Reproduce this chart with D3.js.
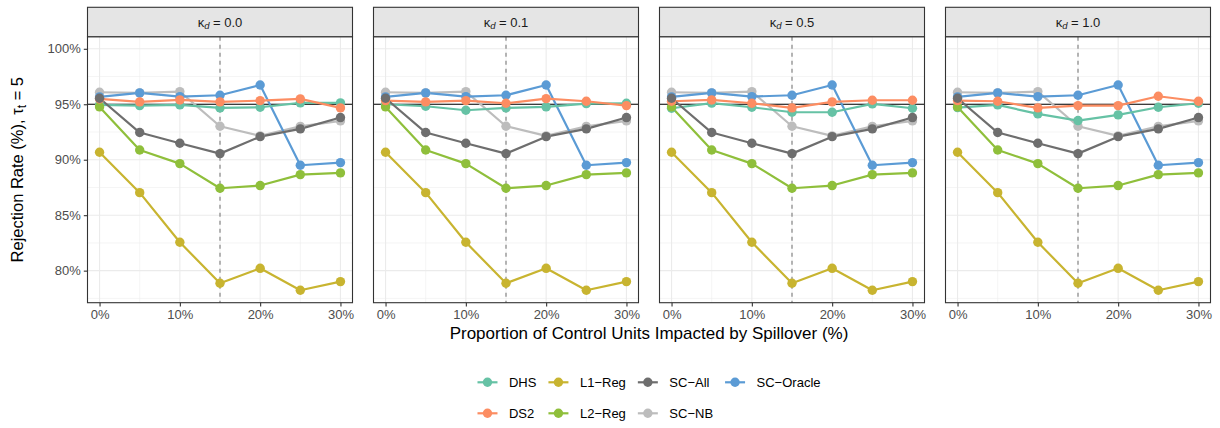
<!DOCTYPE html>
<html>
<head>
<meta charset="utf-8">
<script src="https://cdn.jsdelivr.net/npm/d3@7"></script>
<style>
  body { margin: 0; background: #fff; }
  svg text { font-family: "Liberation Sans", Arial, Helvetica, sans-serif; }
</style>
</head>
<body>
<div id="chart"></div>
<script>
// facet labels (kappa_d) and x values (% of control units hit by spillover)
var kappaLabels = ["0.0", "0.1", "0.5", "1.0"];
var spill = [0, 5, 10, 15, 20, 25, 30];

// series that do not change with kappa_d
var l1Reg    = [90.67, 87.03, 82.56, 78.86, 80.21, 78.23, 79.01];
var l2Reg    = [94.76, 90.88, 89.65, 87.43, 87.67, 88.66, 88.81];
var scAll    = [95.54, 92.45, 91.48, 90.55, 92.08, 92.78, 93.80];
var scNB     = [96.08, 96.02, 96.14, 93.02, 92.15, 93.00, 93.50];
var scOracle = [95.66, 96.02, 95.69, 95.81, 96.74, 89.50, 89.74];

// series that do change, one row per panel
var dhs = [
  [94.94, 94.88, 94.94, 94.67, 94.73, 95.12, 95.12],
  [95.00, 94.82, 94.46, 94.67, 94.76, 95.06, 95.09],
  [94.64, 95.10, 94.73, 94.28, 94.28, 95.03, 94.64],
  [94.70, 94.94, 94.13, 93.53, 94.04, 94.73, 95.09]
];
var ds2 = [
  [95.48, 95.21, 95.39, 95.21, 95.33, 95.48, 94.67],
  [95.33, 95.21, 95.33, 95.09, 95.51, 95.27, 94.88],
  [95.27, 95.39, 95.09, 94.67, 95.21, 95.36, 95.36],
  [95.33, 95.27, 94.67, 94.88, 94.88, 95.72, 95.27]
];

var methods = ["DHS", "DS2", "L1\u2212Reg", "L2\u2212Reg", "SC\u2212All", "SC\u2212NB", "SC\u2212Oracle"];
var colors  = ["#66C2A5", "#FC8D62", "#C8B430", "#8FBF3B", "#6E6E6E", "#BDBDBD", "#5B9BD5"];
var drawOrder = [5, 6, 0, 3, 2, 1, 4]; // roughly what sits on top in the original

var nominal = 95, cutoff = 15;
var yTicks = [80, 85, 90, 95, 100];
var yMinor = [77.5, 82.5, 87.5, 92.5, 97.5];
var xTicks = [0, 10, 20, 30];
var xMinor = [5, 15, 25];

var W = 1220, H = 428;
var panelW = 265, panelStep = 286, panelX0 = 87.5;
var stripTop = 7.3, stripH = 29.4;
var plotTop = stripTop + stripH, plotBottom = 302.7;

var svg = d3.select("#chart").append("svg")
    .attr("width", W)
    .attr("height", H);

var x = d3.scaleLinear()
    .domain([0 - 1.5, 30 + 1.5])
    .range([0, panelW]);

var yr = [78.2, 100], ypad = (yr[1] - yr[0]) * 0.05;
var y = d3.scaleLinear()
    .domain([yr[0] - ypad, yr[1] + ypad])
    .range([plotBottom, plotTop]);

function seriesFor(p) {
  return [dhs[p], ds2[p], l1Reg, l2Reg, scAll, scNB, scOracle];
}

var line = d3.line()
    .x(function(d) { return x(d[0]); })
    .y(function(d) { return y(d[1]); });

kappaLabels.forEach(function(lab, p) {
  var g = svg.append("g")
      .attr("transform", "translate(" + (panelX0 + p * panelStep) + ",0)");

  // grid
  g.selectAll(".ymin").data(yMinor).enter().append("line")
      .attr("x1", 0).attr("x2", panelW)
      .attr("y1", y).attr("y2", y)
      .attr("stroke", "#EBEBEB").attr("stroke-width", 0.55);
  g.selectAll(".xmin").data(xMinor).enter().append("line")
      .attr("y1", plotTop).attr("y2", plotBottom)
      .attr("x1", x).attr("x2", x)
      .attr("stroke", "#EBEBEB").attr("stroke-width", 0.55);
  g.selectAll(".ymaj").data(yTicks).enter().append("line")
      .attr("x1", 0).attr("x2", panelW)
      .attr("y1", y).attr("y2", y)
      .attr("stroke", "#EBEBEB").attr("stroke-width", 1.1);
  g.selectAll(".xmaj").data(xTicks).enter().append("line")
      .attr("y1", plotTop).attr("y2", plotBottom)
      .attr("x1", x).attr("x2", x)
      .attr("stroke", "#EBEBEB").attr("stroke-width", 1.1);

  // reference lines
  g.append("line")
      .attr("x1", 0).attr("x2", panelW)
      .attr("y1", y(nominal)).attr("y2", y(nominal))
      .attr("stroke", "#000").attr("stroke-width", 1.1);
  g.append("line")
      .attr("x1", x(cutoff)).attr("x2", x(cutoff))
      .attr("y1", plotTop).attr("y2", plotBottom)
      .attr("stroke", "#7A7A7A").attr("stroke-width", 1.1)
      .attr("stroke-dasharray", "4,4");

  var series = seriesFor(p);

  // lines first, then points (like ggplot layers)
  drawOrder.forEach(function(k) {
    var pts = spill.map(function(s, i) { return [s, series[k][i]]; });
    g.append("path")
        .datum(pts)
        .attr("fill", "none")
        .attr("stroke", colors[k])
        .attr("stroke-width", 2.2)
        .attr("stroke-linejoin", "round")
        .attr("d", line);
  });
  drawOrder.forEach(function(k) {
    var pts = spill.map(function(s, i) { return [s, series[k][i]]; });
    g.selectAll(null).data(pts).enter().append("circle")
        .attr("cx", function(d) { return x(d[0]); })
        .attr("cy", function(d) { return y(d[1]); })
        .attr("r", 4.7)
        .attr("fill", colors[k]);
  });

  // panel border
  g.append("rect")
      .attr("x", 0).attr("y", plotTop)
      .attr("width", panelW).attr("height", plotBottom - plotTop)
      .attr("fill", "none").attr("stroke", "#333").attr("stroke-width", 1.1);

  // strip
  g.append("rect")
      .attr("x", 0).attr("y", stripTop)
      .attr("width", panelW).attr("height", stripH)
      .attr("fill", "#E5E5E5").attr("stroke", "#333").attr("stroke-width", 1.1);
  var st = g.append("text")
      .attr("x", panelW / 2).attr("y", stripTop + stripH / 2 + 4.5)
      .attr("text-anchor", "middle")
      .attr("font-size", 13)
      .attr("fill", "#1A1A1A");
  st.append("tspan").text("\u03BA");
  st.append("tspan").attr("font-size", 9.5).attr("font-style", "italic").attr("dy", 2.5).text("d");
  st.append("tspan").attr("dy", -2.5).text(" = " + lab);

  // x axis
  var xa = g.append("g").attr("transform", "translate(0," + plotBottom + ")");
  xa.call(d3.axisBottom(x).tickValues(xTicks).tickSize(3.7).tickPadding(3)
      .tickFormat(function(d) { return d + "%"; }));
  xa.select(".domain").remove();
  xa.selectAll("line").attr("stroke", "#333").attr("stroke-width", 1.1);
  xa.selectAll("text").attr("font-size", 13).attr("fill", "#4D4D4D")
      .attr("font-family", "Liberation Sans, Arial, sans-serif");

  // y axis only on first panel
  if (p === 0) {
    var ya = g.append("g");
    ya.call(d3.axisLeft(y).tickValues(yTicks).tickSize(3.7).tickPadding(3)
        .tickFormat(function(d) { return d + "%"; }));
    ya.select(".domain").remove();
    ya.selectAll("line").attr("stroke", "#333").attr("stroke-width", 1.1);
    ya.selectAll("text").attr("font-size", 13).attr("fill", "#4D4D4D")
        .attr("font-family", "Liberation Sans, Arial, sans-serif");
  }
});

// axis titles
var plotLeft = panelX0, plotRight = panelX0 + 3 * panelStep + panelW;
svg.append("text")
    .attr("x", (plotLeft + plotRight) / 2)
    .attr("y", 339)
    .attr("text-anchor", "middle")
    .attr("font-size", 17)
    .attr("fill", "#000")
    .text("Proportion of Control Units Impacted by Spillover (%)");

var yt = svg.append("text")
    .attr("transform", "translate(23," + ((plotTop + plotBottom) / 2) + ") rotate(-90)")
    .attr("text-anchor", "middle")
    .attr("font-size", 16.5)
    .attr("fill", "#000");
yt.append("tspan").text("Rejection Rate (%), \u03C4");
yt.append("tspan").attr("font-size", 12).attr("dy", 3).text("t");
yt.append("tspan").attr("dy", -3).text(" = 5");

// legend: 4 columns x 2 rows, filled column-wise
var legend = svg.append("g");
var rowsY = [382.3, 413.3];
var keyW = 20, textGap = 11.5, colGap = 12;
var cols = [];
for (var c = 0; c < 4; c++) cols.push(methods.slice(c * 2, c * 2 + 2).map(function(m, r) { return c * 2 + r; }));
var cx = 0;
cols.forEach(function(col) {
  var maxW = 0;
  col.forEach(function(k, r) {
    var item = legend.append("g").attr("transform", "translate(" + cx + "," + rowsY[r] + ")");
    item.append("line")
        .attr("x1", 0).attr("x2", keyW)
        .attr("stroke", colors[k]).attr("stroke-width", 2.2);
    item.append("circle")
        .attr("cx", keyW / 2).attr("r", 4.7)
        .attr("fill", colors[k]);
    var t = item.append("text")
        .attr("x", keyW + textGap)
        .attr("y", 4.7)
        .attr("font-size", 13)
        .attr("fill", "#000")
        .text(methods[k]);
    maxW = Math.max(maxW, t.node().getComputedTextLength());
  });
  cx += keyW + textGap + maxW + colGap;
});
var totalW = cx - colGap;
legend.attr("transform", "translate(" + ((plotLeft + plotRight) / 2 - totalW / 2) + ",0)");
</script>
</body>
</html>
